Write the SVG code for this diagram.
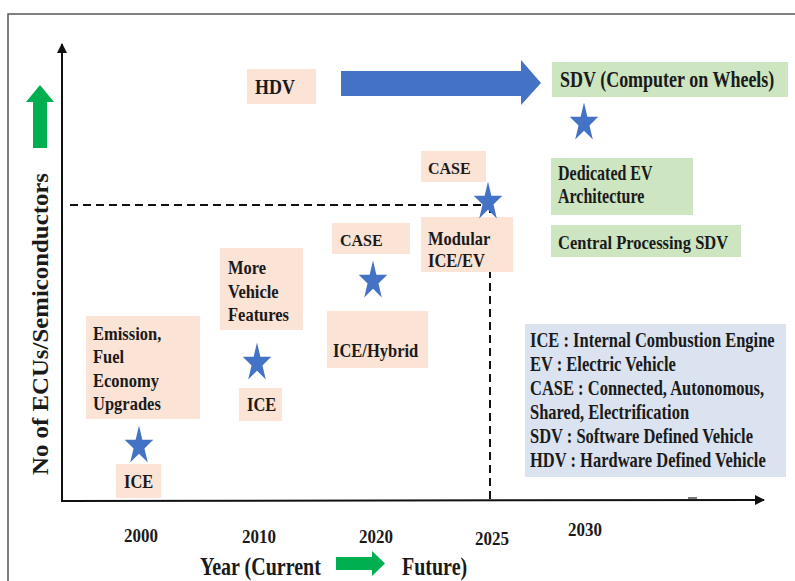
<svg xmlns="http://www.w3.org/2000/svg" width="795" height="581" viewBox="0 0 795 581">
<style>
.t{font-family:"Liberation Serif","Times New Roman",serif;font-weight:bold;fill:#1a1a1a;font-size:16.5px}
.yr{font-size:17px}
.peach{fill:#fbe3d6}
.green{fill:#cde5c1}
.star{fill:#4472c4}
.dash{stroke:#111;stroke-width:2;stroke-dasharray:8 5;fill:none}
</style>
<defs>
<path id="star" d="M0,-20.4 L3.37,-6.3 L14.27,-6.3 L5.45,2.41 L8.82,16.5 L0,7.79 L-8.82,16.5 L-5.45,2.41 L-14.27,-6.3 L-3.37,-6.3 Z"/>
<marker id="ah" viewBox="0 0 10 10" refX="9" refY="5" markerWidth="5" markerHeight="5" orient="auto" markerUnits="strokeWidth"><path d="M0,0 L10,5 L0,10 Z" fill="#111"/></marker>
</defs>
<rect width="795" height="581" fill="#fff"/>
<rect x="8" y="14" width="800" height="580" fill="none" stroke="#555" stroke-width="1.5"/>

<g id="connectors">
<line x1="62" y1="502" x2="62" y2="44" stroke="#111" stroke-width="2" marker-end="url(#ah)"/>
<line x1="61" y1="501" x2="764" y2="500" stroke="#111" stroke-width="2" marker-end="url(#ah)"/>
<line class="dash" x1="70" y1="205" x2="490" y2="205"/>
<line class="dash" x1="490" y1="205" x2="490" y2="500"/>
<rect x="688" y="497" width="9" height="2" fill="#777"/>
<path id="hdv-arrow" d="M341,71 L521,71 L521,60 L541,83 L521,105 L521,96 L341,96 Z" fill="#4472c4"/>
</g>

<g id="y-label">
<path d="M33,148 L33,102 L26,102 L40,85 L54,102 L47,102 L47,148 Z" fill="#00b050"/>
<text class="t" transform="translate(48,324) rotate(-90)" text-anchor="middle" style="font-size:22.6px" textLength="302" lengthAdjust="spacingAndGlyphs">No of ECUs/Semiconductors</text>
</g>

<g id="x-label">
<text class="t" transform="translate(200,575) scale(1,1.28)" style="font-size:20px">Year (Current</text>
<path d="M336,557 L372,557 L372,551 L385,563.5 L372,576 L372,570 L336,570 Z" fill="#00b050"/>
<text class="t" transform="translate(402,575) scale(1,1.28)" style="font-size:20px">Future)</text>
</g>

<g id="years">
<text class="t yr" transform="translate(141,542) scale(1,1.15)" text-anchor="middle">2000</text>
<text class="t yr" transform="translate(259,543) scale(1,1.15)" text-anchor="middle">2010</text>
<text class="t yr" transform="translate(376,543) scale(1,1.15)" text-anchor="middle">2020</text>
<text class="t yr" transform="translate(492,545) scale(1,1.15)" text-anchor="middle">2025</text>
<text class="t yr" transform="translate(585,536) scale(1,1.15)" text-anchor="middle">2030</text>
</g>

<g id="hdv">
<rect class="peach" x="247" y="69" width="69" height="35"/>
<text class="t" transform="translate(255,94) scale(1,1.15)" style="font-size:18px">HDV</text>
</g>

<g id="sdv">
<rect class="green" x="552" y="62" width="236" height="35"/>
<text class="t" transform="translate(560,87) scale(1,1.3)" style="font-size:18px">SDV (Computer on Wheels)</text>
</g>

<g id="star-2030"><use href="#star" class="star" x="584" y="123"/></g>

<g id="dedicated-ev">
<rect class="green" x="551" y="158" width="142" height="57"/>
<text class="t" transform="translate(558,180) scale(1,1.28)" style="font-size:16px">Dedicated EV</text>
<text class="t" transform="translate(558,203) scale(1,1.28)" style="font-size:16px">Architecture</text>
</g>

<g id="central-processing">
<rect class="green" x="551" y="225" width="190" height="32"/>
<text class="t" transform="translate(558,249) scale(1,1.2)">Central Processing SDV</text>
</g>

<g id="case-2025">
<rect class="peach" x="421" y="151" width="65" height="31"/>
<text class="t" transform="translate(428,174) scale(1,1.02)" style="font-size:16px">CASE</text>
</g>

<g id="modular">
<rect class="peach" x="421" y="217" width="92" height="55"/>
<text class="t" transform="translate(428,245) scale(1,1.15)">Modular</text>
<text class="t" transform="translate(428,267) scale(1,1.15)">ICE/EV</text>
</g>

<g id="star-2025"><use href="#star" class="star" x="488" y="202"/></g>

<g id="case-2020">
<rect class="peach" x="332" y="223" width="78" height="31"/>
<text class="t" transform="translate(340,246) scale(1,1.04)" style="font-size:16px">CASE</text>
</g>

<g id="star-2020"><use href="#star" class="star" x="373" y="281"/></g>

<g id="ice-hybrid">
<rect class="peach" x="327" y="311" width="101" height="57"/>
<text class="t" transform="translate(333,357) scale(1,1.2)">ICE/Hybrid</text>
</g>

<g id="more-features">
<rect class="peach" x="220" y="248" width="83" height="82"/>
<text class="t" transform="translate(228,274) scale(1,1.12)">More</text>
<text class="t" transform="translate(228,298) scale(1,1.12)">Vehicle</text>
<text class="t" transform="translate(228,321) scale(1,1.12)">Features</text>
</g>

<g id="star-2010"><use href="#star" class="star" x="257" y="363"/></g>

<g id="ice-2010">
<rect class="peach" x="239" y="388" width="43" height="33"/>
<text class="t" transform="translate(247,411) scale(1,1.12)">ICE</text>
</g>

<g id="emission">
<rect class="peach" x="86" y="316" width="114" height="103"/>
<text class="t" transform="translate(93,340) scale(1,1.2)">Emission,</text>
<text class="t" transform="translate(93,363) scale(1,1.2)">Fuel</text>
<text class="t" transform="translate(93,387) scale(1,1.2)">Economy</text>
<text class="t" transform="translate(93,410) scale(1,1.2)">Upgrades</text>
</g>

<g id="star-2000"><use href="#star" class="star" x="139" y="446"/></g>

<g id="ice-2000">
<rect class="peach" x="116" y="464" width="45" height="34"/>
<text class="t" transform="translate(124,488) scale(1,1.12)">ICE</text>
</g>

<g id="legend">
<rect x="525" y="324" width="261" height="153" fill="#dbe3f1"/>
<text class="t" transform="translate(530,347) scale(1,1.32)">ICE : Internal Combustion Engine</text>
<text class="t" transform="translate(530,371) scale(1,1.32)">EV : Electric Vehicle</text>
<text class="t" transform="translate(530,395) scale(1,1.32)">CASE : Connected, Autonomous,</text>
<text class="t" transform="translate(530,419) scale(1,1.32)">Shared, Electrification</text>
<text class="t" transform="translate(530,443) scale(1,1.32)">SDV : Software Defined Vehicle</text>
<text class="t" transform="translate(530,467) scale(1,1.32)">HDV : Hardware Defined Vehicle</text>
</g>
</svg>
